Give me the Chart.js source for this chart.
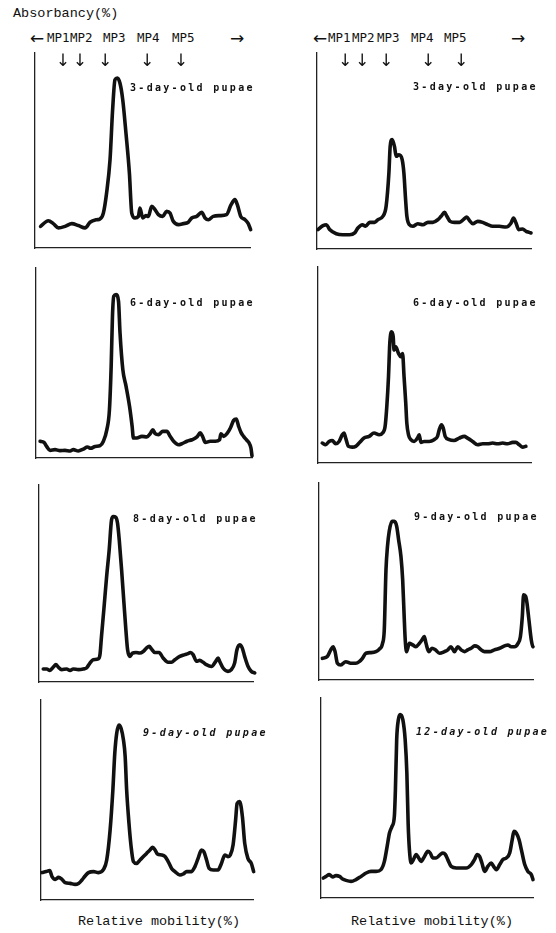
<!DOCTYPE html>
<html>
<head>
<meta charset="utf-8">
<script src="https://cdn.jsdelivr.net/npm/chart.js@4.4.0/dist/chart.umd.min.js"></script>
<style>
  body { margin: 0; background: #fff; width: 556px; height: 933px; position: relative; overflow: hidden; }
  canvas { position: absolute; }
  .t { position: absolute; white-space: pre; color: #111; line-height: 1; }
  .axis { font-family: "Liberation Mono", monospace; font-size: 13.5px; }
  .mp { font-family: "DejaVu Sans Mono", monospace; font-size: 12.5px; }
  .arrow { font-family: "DejaVu Sans", sans-serif; font-size: 17px; }
  .stage { font-family: "DejaVu Sans Mono", monospace; font-size: 10px; font-weight: bold; letter-spacing: 2.3px; }
  .it { font-style: italic; }
</style>
</head>
<body>
<script>
// band names and their mobility (%) in each column
const mpNames = ["MP1", "MP2", "MP3", "MP4", "MP5"];
const mpMobilityA = [13.0, 20.9, 32.6, 52.1, 67.9];
const mpMobilityB = [13.2, 21.1, 32.3, 51.9, 67.3];

const stageLabels = ["3-day-old pupae", "3-day-old pupae", "6-day-old pupae", "6-day-old pupae",
  "8-day-old pupae", "9-day-old pupae", "9-day-old pupae", "12-day-old pupae"];

// densitometer scans: relative mobility (%) and absorbancy (%)
const mobA3 = [2.6, 6.2, 8.5, 10.9, 14.0, 17.1, 20.2, 23.3, 25.6, 28.7, 30.2, 31.8, 33.3, 34.9, 36.1, 37.2, 38.3, 39.5, 40.8, 42.3, 43.9, 45.0, 46.5, 48.1, 48.8, 50.1, 51.6, 52.7, 54.3, 55.8, 57.4, 59.4, 61.2, 62.8, 64.3, 66.7, 69.0, 71.3, 72.9, 75.2, 77.5, 79.1, 80.6, 82.9, 86.0, 89.1, 91.2, 93.0, 94.1, 95.7, 97.7, 99.2, 100.3, 101.2];
const absA3 = [11.1, 14.0, 12.5, 10.3, 11.1, 12.5, 11.5, 10.3, 13.2, 14.5, 14.9, 17.9, 28.2, 45.3, 70.9, 86.3, 87.2, 84.6, 76.1, 59.0, 38.5, 17.9, 15.4, 16.2, 20.5, 15.4, 16.6, 16.2, 21.4, 19.7, 17.1, 16.2, 18.8, 17.9, 13.7, 12.0, 12.5, 13.2, 15.4, 16.2, 18.3, 15.4, 14.5, 16.2, 16.6, 17.1, 22.2, 24.8, 22.2, 16.2, 14.5, 12.5, 9.4, 6.8];

const mobB3 = [0.5, 2.8, 4.4, 5.9, 9.0, 12.1, 15.2, 17.6, 19.1, 21.2, 22.7, 24.6, 26.9, 28.5, 30.8, 32.3, 33.6, 34.2, 35.1, 36.2, 37.0, 38.3, 39.8, 40.6, 41.4, 42.0, 43.2, 44.8, 47.1, 49.5, 51.8, 54.1, 56.5, 58.0, 59.6, 60.7, 62.2, 64.2, 66.6, 68.4, 70.0, 71.2, 72.8, 75.1, 77.4, 79.8, 82.1, 85.2, 88.3, 90.7, 91.8, 93.0, 94.2, 96.1, 97.7, 99.2, 100.0];
const absB3 = [9.9, 11.9, 12.4, 9.9, 7.8, 7.3, 7.3, 8.2, 10.7, 12.4, 11.6, 13.6, 13.6, 15.0, 16.7, 21.8, 38.8, 52.4, 55.8, 52.4, 47.3, 48.1, 45.6, 38.8, 25.2, 16.7, 12.4, 11.6, 12.9, 12.4, 13.6, 13.6, 15.0, 16.7, 18.7, 16.7, 14.1, 13.6, 13.6, 15.0, 16.3, 14.6, 12.9, 14.1, 13.6, 12.4, 11.6, 11.6, 11.2, 13.3, 15.8, 13.3, 9.9, 10.2, 9.0, 8.5, 8.2];

const mobA6 = [1.9, 3.7, 4.9, 6.5, 8.8, 11.1, 13.4, 15.8, 17.3, 19.6, 21.9, 23.8, 25.3, 27.4, 29.7, 31.2, 32.8, 34.0, 34.8, 35.4, 36.0, 37.1, 38.2, 38.9, 40.2, 41.7, 43.3, 44.5, 45.1, 46.7, 49.0, 51.3, 52.9, 54.1, 55.2, 56.7, 58.7, 60.6, 62.1, 63.7, 66.0, 67.5, 69.9, 72.2, 74.5, 76.0, 77.1, 78.4, 80.7, 83.0, 85.0, 85.6, 86.9, 88.4, 90.0, 91.5, 92.7, 93.8, 94.9, 96.1, 97.4, 98.5, 99.5, 100.0];
const absA6 = [8.8, 8.2, 6.1, 4.0, 4.4, 3.9, 4.0, 3.7, 4.4, 3.7, 4.7, 5.8, 5.1, 6.1, 6.5, 8.8, 14.9, 25.4, 48.2, 74.6, 85.1, 86.0, 82.5, 65.8, 46.5, 37.7, 27.2, 16.7, 10.5, 10.5, 11.4, 11.1, 12.8, 14.9, 12.8, 12.3, 14.0, 14.0, 11.4, 8.8, 7.0, 7.5, 8.8, 9.6, 11.1, 13.2, 11.4, 8.2, 8.8, 8.8, 9.6, 12.8, 11.4, 12.8, 15.8, 19.8, 20.5, 16.7, 13.5, 11.4, 9.6, 8.2, 5.3, 1.2];

const mobB6 = [2.0, 3.6, 5.2, 6.7, 8.3, 9.9, 11.4, 12.2, 13.0, 14.3, 16.1, 17.7, 19.3, 21.6, 24.0, 26.3, 28.7, 30.3, 31.5, 32.3, 33.1, 33.7, 34.5, 35.3, 35.7, 36.5, 37.8, 38.9, 39.7, 40.4, 41.2, 41.7, 42.5, 43.6, 45.1, 46.7, 47.5, 48.3, 49.8, 52.2, 54.5, 56.1, 56.9, 58.0, 58.8, 59.7, 61.6, 63.9, 66.3, 68.7, 70.2, 72.6, 74.9, 77.3, 79.6, 82.0, 84.3, 86.7, 89.0, 91.4, 92.9, 94.5, 96.1, 97.6];
const absB6 = [10.2, 9.3, 11.0, 11.5, 9.8, 11.0, 14.4, 15.3, 12.7, 8.5, 8.1, 8.5, 10.2, 12.7, 13.6, 15.3, 14.4, 15.3, 18.6, 28.8, 44.1, 61.0, 66.9, 64.4, 57.6, 59.3, 55.9, 54.2, 55.9, 44.1, 30.5, 20.3, 14.4, 11.9, 11.0, 12.7, 14.4, 10.5, 11.0, 11.0, 11.9, 13.6, 16.9, 19.5, 17.8, 13.6, 11.9, 11.5, 12.7, 13.6, 12.7, 11.0, 9.3, 9.8, 9.8, 10.2, 9.8, 10.2, 9.8, 10.5, 10.5, 9.3, 8.1, 8.5];

const mobA8 = [2.0, 3.6, 5.1, 6.7, 7.9, 9.0, 10.6, 12.9, 14.5, 16.0, 18.4, 20.7, 22.2, 23.8, 25.3, 27.7, 28.5, 29.2, 30.3, 31.6, 32.8, 33.9, 34.7, 35.9, 36.7, 37.5, 38.6, 39.7, 40.6, 41.4, 42.5, 43.7, 45.3, 47.1, 48.7, 50.2, 51.5, 52.6, 54.1, 56.1, 58.0, 60.3, 61.9, 63.5, 65.8, 68.1, 69.7, 70.8, 72.0, 73.6, 75.1, 76.7, 78.2, 80.6, 82.6, 83.7, 84.4, 86.0, 88.3, 89.9, 91.4, 92.5, 93.8, 95.0, 96.1, 97.7, 99.2, 100.8];
const absA8 = [6.6, 6.6, 5.9, 7.6, 8.8, 7.6, 6.3, 6.6, 5.9, 6.6, 6.3, 6.6, 7.1, 9.6, 11.3, 11.7, 13.9, 23.1, 36.7, 53.5, 67.1, 82.3, 84.0, 83.6, 80.6, 72.1, 56.9, 40.0, 26.5, 16.4, 13.0, 14.7, 15.0, 14.7, 15.5, 17.2, 18.1, 16.7, 15.0, 15.0, 12.2, 10.0, 10.0, 11.3, 13.0, 13.9, 14.4, 15.0, 13.9, 10.5, 11.0, 10.0, 8.8, 7.9, 10.5, 12.2, 10.5, 7.1, 5.4, 6.3, 9.6, 16.4, 18.9, 17.2, 13.0, 7.9, 5.4, 4.6];

const mobB9 = [1.6, 3.9, 5.5, 6.6, 7.5, 8.6, 10.2, 12.5, 14.8, 17.2, 18.8, 20.3, 21.9, 24.2, 26.6, 28.1, 29.7, 30.5, 31.3, 32.0, 32.8, 34.1, 35.2, 36.3, 37.2, 38.3, 39.1, 39.8, 40.3, 40.9, 42.2, 43.8, 45.3, 46.9, 48.1, 49.2, 50.0, 51.3, 52.8, 54.4, 56.3, 58.6, 60.2, 61.7, 63.3, 64.8, 66.4, 68.0, 69.5, 71.1, 72.7, 74.2, 75.8, 77.3, 79.7, 82.0, 84.4, 86.7, 88.3, 89.8, 91.4, 93.0, 94.1, 95.0, 95.6, 96.6, 97.2, 98.1, 99.2, 100.0, 101.3, 102.3, 103.4, 104.7, 105.5];
const absB9 = [11.0, 11.9, 15.3, 16.9, 14.4, 8.5, 7.6, 9.3, 8.5, 8.5, 9.3, 11.0, 13.6, 13.9, 14.4, 15.6, 18.6, 25.4, 55.9, 67.8, 75.4, 80.5, 80.5, 78.0, 71.2, 62.7, 50.8, 32.2, 20.3, 14.4, 18.6, 17.8, 16.9, 18.6, 20.3, 22.0, 18.6, 14.4, 16.1, 15.3, 13.6, 14.4, 15.3, 16.9, 14.4, 16.9, 15.3, 14.4, 15.3, 16.1, 17.3, 16.9, 15.3, 14.4, 14.4, 15.3, 16.1, 17.3, 17.8, 16.9, 16.9, 18.6, 22.0, 32.2, 43.2, 42.4, 39.0, 30.5, 20.3, 16.9, 16.1, 10.2, 8.5, 7.6, 6.8];

const mobA9 = [0.5, 2.5, 4.1, 5.2, 6.7, 8.3, 9.9, 11.4, 13.8, 16.1, 17.7, 19.3, 20.8, 22.4, 24.8, 27.1, 29.5, 31.0, 32.6, 33.9, 34.8, 35.7, 36.8, 37.8, 38.9, 39.7, 40.4, 41.5, 42.5, 43.6, 45.1, 46.7, 48.3, 49.8, 51.4, 52.7, 53.8, 54.9, 56.9, 58.5, 60.0, 61.6, 63.2, 65.5, 67.1, 68.7, 71.0, 72.6, 74.1, 75.7, 76.8, 78.1, 79.3, 81.2, 83.5, 85.1, 86.7, 88.2, 89.3, 90.6, 91.8, 92.5, 93.7, 95.0, 96.1, 97.6, 99.2, 100.3, 101.3, 102.4];
const absA9 = [13.7, 14.2, 14.7, 11.7, 10.3, 11.3, 10.3, 8.7, 8.3, 7.8, 8.3, 10.0, 12.0, 13.7, 14.2, 13.7, 15.3, 20.0, 35.0, 55.0, 73.3, 83.3, 87.5, 85.8, 80.0, 71.7, 55.0, 38.3, 26.7, 19.2, 18.3, 20.0, 21.7, 23.3, 25.0, 26.3, 25.0, 23.0, 22.5, 21.7, 19.2, 15.8, 14.2, 12.5, 13.0, 14.2, 14.2, 16.7, 20.8, 25.0, 24.2, 20.0, 15.8, 15.0, 15.0, 18.3, 22.5, 21.7, 22.5, 27.5, 40.0, 48.3, 49.2, 41.7, 28.3, 20.8, 18.3, 14.2, 10.0, 7.0];

const mobB12 = [1.1, 2.4, 3.9, 5.5, 7.1, 8.7, 10.2, 11.8, 14.2, 16.5, 18.9, 21.3, 23.6, 26.0, 28.3, 29.9, 31.2, 32.3, 33.5, 34.6, 35.1, 35.7, 36.5, 37.3, 38.6, 39.7, 40.5, 41.1, 41.7, 42.5, 43.6, 44.9, 46.1, 47.2, 48.8, 50.4, 51.5, 52.8, 54.3, 56.2, 57.5, 58.7, 59.8, 61.4, 63.8, 66.1, 68.5, 70.9, 72.4, 73.7, 74.8, 75.9, 77.2, 78.7, 80.3, 81.4, 82.7, 84.3, 85.8, 87.4, 89.0, 90.2, 91.0, 92.1, 93.4, 94.5, 96.1, 97.6, 99.2, 100.0];
const absB12 = [10.0, 10.8, 11.7, 10.5, 11.2, 10.8, 9.5, 8.8, 8.3, 9.2, 10.8, 12.5, 13.3, 13.3, 14.2, 18.3, 25.8, 32.5, 35.8, 40.8, 54.2, 79.2, 89.2, 91.7, 89.2, 79.2, 62.5, 37.5, 24.2, 17.5, 19.2, 21.7, 20.0, 18.3, 20.8, 23.3, 22.5, 20.0, 20.0, 21.7, 22.5, 21.7, 19.2, 15.8, 15.0, 15.0, 15.0, 16.7, 19.2, 21.7, 20.8, 17.5, 13.3, 15.8, 17.5, 15.8, 14.2, 16.7, 19.2, 20.0, 22.5, 29.2, 33.3, 32.5, 29.2, 24.2, 16.7, 13.3, 11.7, 9.2];

const series = [[mobA3, absA3], [mobB3, absB3], [mobA6, absA6], [mobB6, absB6],
  [mobA8, absA8], [mobB9, absB9], [mobA9, absA9], [mobB12, absB12]];

// frame of each panel: left, top, width, height, then stage label x, y
const layout = [
  [35, 53, 215, 195, 130, 88],
  [317, 53, 214, 196, 413, 87],
  [36, 268, 216, 190, 130, 303],
  [318, 267, 213, 196, 413, 303],
  [39, 485, 214, 197, 133, 519],
  [319, 483, 214, 197, 414, 517],
  [41, 700, 212, 200, 143, 733],
  [321, 698, 212, 200, 416, 732]
];

function addText(str, x, y, cls, centered) {
  const d = document.createElement("div");
  d.className = "t " + cls;
  d.textContent = str;
  d.style.left = x + "px";
  d.style.top = y + "px";
  d.style.transform = centered ? "translate(-50%, -50%)" : "translateY(-50%)";
  document.body.appendChild(d);
  return d;
}

const axisStyle = {
  ticks: { display: false },
  grid: { display: false, drawTicks: false },
  border: { display: true, color: "#222", width: 1.3 }
};

function makePanel(i) {
  const [left, top, w, h] = layout[i];
  const pad = { left: 6, top: 4, right: 26, bottom: 6 };
  const canvas = document.createElement("canvas");
  canvas.width = w + pad.left + pad.right;
  canvas.height = h + pad.top + pad.bottom;
  canvas.style.left = (left - pad.left) + "px";
  canvas.style.top = (top - pad.top) + "px";
  document.body.appendChild(canvas);

  const [mob, abs] = series[i];
  const chart = new Chart(canvas, {
    type: "line",
    data: {
      datasets: [{
        data: mob.map((x, k) => ({ x: x, y: abs[k] })),
        borderColor: "#111",
        borderWidth: 3.6,
        pointRadius: 0,
        cubicInterpolationMode: "monotone",
        borderJoinStyle: "round",
        borderCapStyle: "round",
        clip: false
      }]
    },
    options: {
      responsive: false,
      animation: false,
      events: [],
      layout: { padding: pad },
      plugins: { legend: { display: false }, tooltip: { enabled: false } },
      scales: {
        x: Object.assign({ type: "linear", min: 0, max: 100 }, axisStyle),
        y: Object.assign({ type: "linear", min: 0, max: 100 }, axisStyle)
      }
    }
  });
  chart.offsetLeft = left - pad.left;
  return chart;
}

const charts = layout.map((p, i) => makePanel(i));

// stage labels inside the panels
layout.forEach((p, i) => {
  addText(stageLabels[i], p[4], p[5], "stage" + (i >= 6 ? " it" : ""));
});

// header texts
addText("Absorbancy(%)", 13, 14, "axis");
addText("Relative mobility(%)", 78, 922, "axis");
addText("Relative mobility(%)", 351, 922, "axis");

// MP band names above each column
const mpTextX = [[47, 70, 103, 137, 172], [328, 352, 377, 411, 444]];
const arrowX = [[30, 230], [313, 511]];
[0, 1].forEach(c => {
  addText("\u2190", arrowX[c][0], 38, "arrow");
  addText("\u2192", arrowX[c][1], 38, "arrow");
  mpNames.forEach((name, k) => addText(name, mpTextX[c][k], 38, "mp"));
});

// downward arrows placed at the band mobility through the x scale of the top charts
[[charts[0], mpMobilityA], [charts[1], mpMobilityB]].forEach(([chart, vals]) => {
  vals.forEach(v => {
    const px = chart.offsetLeft + chart.scales.x.getPixelForValue(v);
    addText("\u2193", px, 60, "arrow", true);
  });
});
</script>
</body>
</html>
